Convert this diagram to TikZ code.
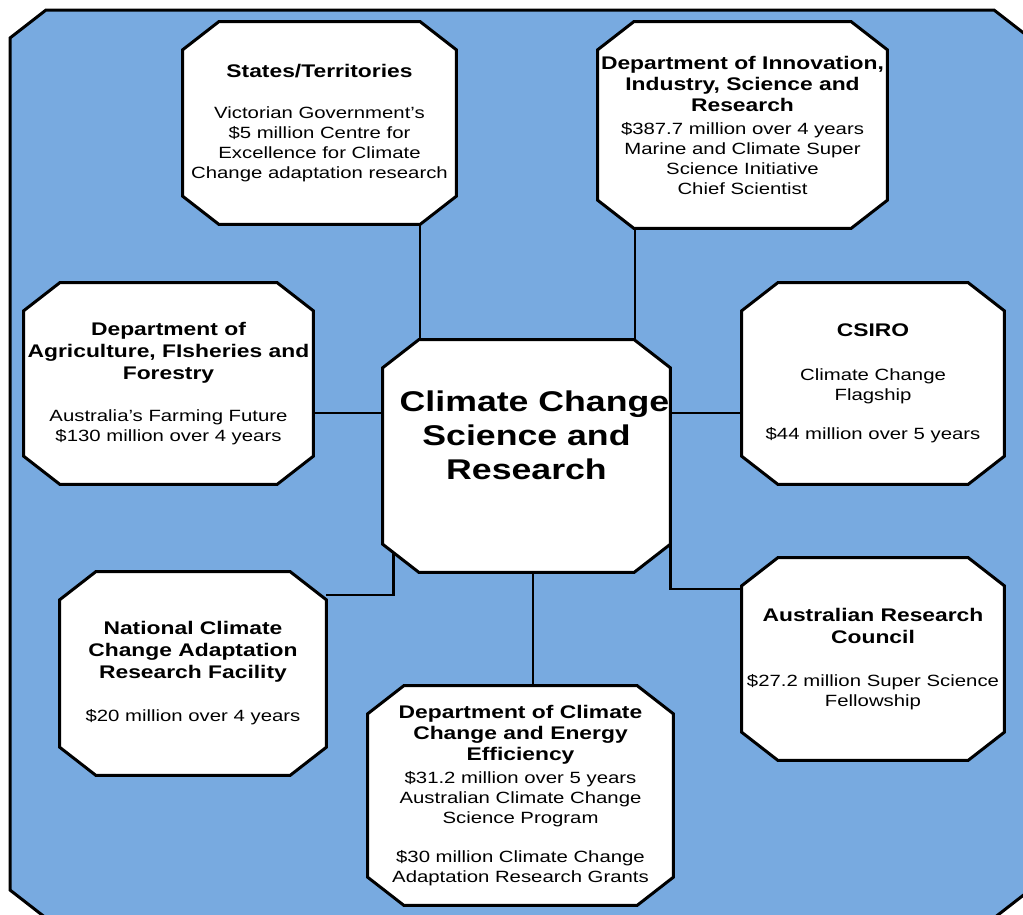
\documentclass[tikz,border=0pt]{standalone}
\usepackage{fontspec}
\setmainfont{Liberation Sans}[FakeStretch=1.25]
\usetikzlibrary{backgrounds, calc}
\definecolor{PanelBlue}{RGB}{120, 170, 224}
\pgfdeclarelayer{boxes}
\pgfsetlayers{background,boxes,main}
\newcommand{\hd}[1]{{\fontsize{13.7}{16}\selectfont\bfseries #1}}
\tikzset{
  octbox/.style={rectangle, inner sep=0pt, align=center,
                 font=\fontsize{12.2}{15}\selectfont},
  octline/.style={draw=black, line width=2.25pt, fill=white, line join=miter},
  link/.style={draw=black, line width=1.9pt},
  panel/.style={draw=black, line width=2.25pt, fill=PanelBlue},
}

\begin{document}
\begin{tikzpicture}[x=0.75pt, y=-0.75pt]
  \useasboundingbox (0,0) rectangle (1023,914);

  % centre
  \node[octbox, minimum width=215.25pt, minimum height=174pt,
        font=\fontsize{21.4}{25.5}\selectfont\bfseries] (centre) at (526.5,456)
       {\hspace*{12pt}Climate Change\\Science and\\Research\\[6pt]\mbox{}};

  % funding bodies
  \node[octbox, minimum width=204.75pt, minimum height=151.5pt] (states) at (319.5,123)
       {\hd{States/Territories}\\[15.75pt]
        Victorian Government’s\\\$5 million Centre for\\
        Excellence for Climate\\Change adaptation research};
  \node[octbox, minimum width=216.75pt, minimum height=154.5pt] (diisr) at (742.5,125)
       {\hd{Department of Innovation,}\\[0.75pt]\hd{Industry, Science and}\\[0.75pt]
        \hd{Research}\\[2.25pt]
        \$387.7 million over 4 years\\Marine and Climate Super\\
        Science Initiative\\Chief Scientist};
  \node[octbox, minimum width=216.75pt, minimum height=150.75pt] (daff) at (168.5,383.5)
       {\hd{Department of}\\[1.5pt]\hd{Agriculture, FIsheries and}\\[1.5pt]
        \hd{Forestry}\\[17pt]
        Australia’s Farming Future\\\$130 million over 4 years};
  \node[octbox, minimum width=196.5pt, minimum height=150.75pt] (csiro) at (873,383.5)
       {\hd{CSIRO}\\[18pt]Climate Change\\Flagship\\[14.25pt]
        \$44 million over 5 years};
  \node[octbox, minimum width=199.5pt, minimum height=152.25pt] (nccarf) at (193,673.5)
       {\hd{National Climate}\\[1.5pt]\hd{Change Adaptation}\\[1.5pt]
        \hd{Research Facility}\\[17.25pt]
        \$20 million over 4 years};
  \node[octbox, minimum width=228.75pt, minimum height=164.25pt] (dccee) at (520.5,795.5)
       {\hd{Department of Climate}\\[0.75pt]\hd{Change and Energy}\\[0.75pt]
        \hd{Efficiency}\\[2.25pt]
        \$31.2 million over 5 years\\Australian Climate Change\\
        Science Program\\[14.25pt]
        \$30 million Climate Change\\Adaptation Research Grants};
  \node[octbox, minimum width=196.5pt, minimum height=151.5pt] (arc) at (873,659)
       {\hd{Australian Research}\\[1.5pt]\hd{Council}\\[17.25pt]
        \$27.2 million Super Science\\Fellowship};

  % cut-corner outlines behind the texts
  \begin{pgfonlayer}{boxes}
    \foreach \n in {centre,states,diisr,daff,csiro,nccarf,dccee,arc}
      \draw[octline] ($(\n.north west)+(0,28)$) -- ($(\n.north west)+(36,0)$)
        -- ($(\n.north east)+(-36,0)$) -- ($(\n.north east)+(0,28)$)
        -- ($(\n.south east)+(0,-28)$) -- ($(\n.south east)+(-36,0)$)
        -- ($(\n.south west)+(36,0)$) -- ($(\n.south west)+(0,-28)$) -- cycle;
  \end{pgfonlayer}

  \begin{scope}[on background layer]
    \draw[panel] (10,38) -- (46,10) -- (994,10) -- (1030,38) -- (1030,890)
                 -- (994,918) -- (46,918) -- (10,890) -- cycle;
    \draw[link] ($(states.south)+(100.5,0)$) -- ($(centre.north)+(-106.5,0)$);
    \draw[link] ($(diisr.south)+(-107.5,0)$) -- ($(centre.north)+(108.5,0)$);
    \draw[link] ($(daff.east)+(0,29.5)$) -- ($(centre.west)+(0,-43)$);
    \draw[link] ($(centre.east)+(0,-43)$) -- ($(csiro.west)+(0,29.5)$);
    \draw[link] ($(centre.south)+(6.5,0)$) -- ($(dccee.north)+(12.5,0)$);
    \draw[link] ($(centre.west)+(11,90)$) |- ($(nccarf.east)+(0,-78.5)$);
    \draw[link] ($(centre.east)+(0,80)$) |- ($(arc.west)+(0,-70)$);
  \end{scope}
\end{tikzpicture}
\end{document}
